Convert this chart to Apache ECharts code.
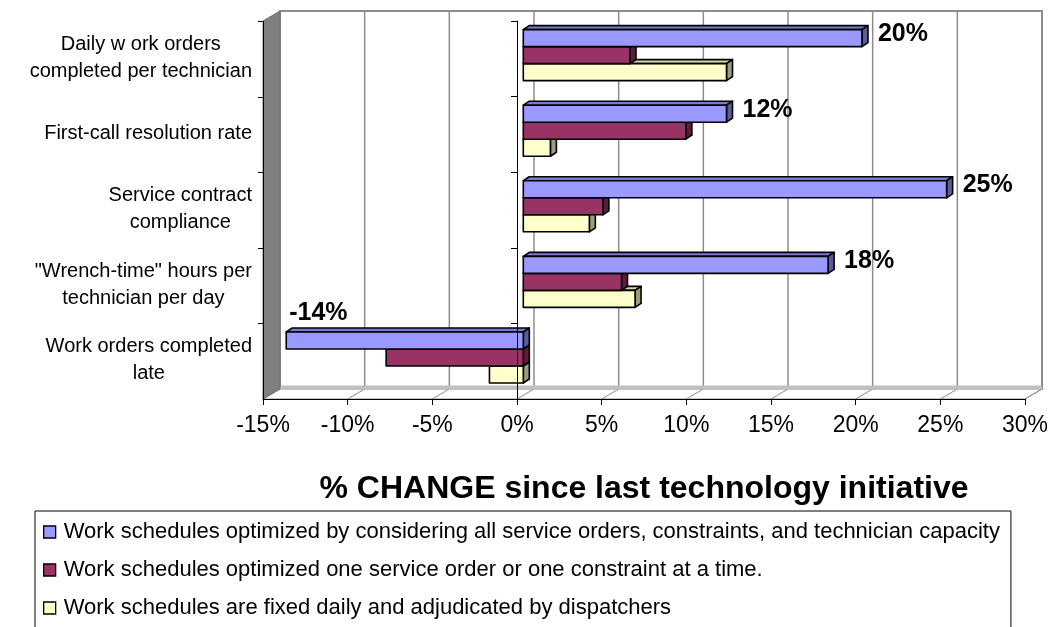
<!DOCTYPE html>
<html>
<head>
<meta charset="utf-8">
<script src="https://cdn.jsdelivr.net/npm/echarts@6/dist/echarts.min.js"></script>
<style>
  html, body { margin: 0; padding: 0; background: #fff; }
  #chart { width: 1054px; height: 627px; }
</style>
</head>
<body>
<div id="chart"></div>
<script>
// ---- data ----
const categories = [
  'Daily w ork orders\ncompleted per technician',
  'First-call resolution rate',
  'Service contract\ncompliance',
  '"Wrench-time" hours per\ntechnician per day',
  'Work orders completed\nlate'
];
const seriesNames = [
  'Work schedules optimized by considering all service orders, constraints, and technician capacity',
  'Work schedules optimized one service order or one constraint at a time.',
  'Work schedules are fixed daily and adjudicated by dispatchers'
];
const allConstraints = [20, 12, 25, 18, -14];
const oneAtATime = [6.3, 9.6, 4.7, 5.8, -8.1];
const fixedDaily = [12, 1.6, 3.9, 6.6, -2.0];
const xTicks = [-15, -10, -5, 0, 5, 10, 15, 20, 25, 30];
const axisTitle = '% CHANGE since last technology initiative';

// ---- look ----
const FONT = '"Liberation Sans", Arial, Helvetica, sans-serif';
const WALL = [17, -10];        // depth of the box (back wall offset)
const BAR_PLANE = [6.3, -3.7]; // bars stand a little behind the front plane
const BAR_DEPTH = [6, -4];     // thickness of each bar into the page
const palette = [
  { front: '#9999FF', top: '#7b7bd6', side: '#5c5c9c' },
  { front: '#993366', top: '#7a2952', side: '#5a1e3c' },
  { front: '#FFFFCC', top: '#d6d6ab', side: '#9c9c7c' }
];

const measureCtx = document.createElement('canvas').getContext('2d');
function maxLineWidth(text, font) {
  measureCtx.font = font;
  return Math.max.apply(null, text.split('\n').map(s => measureCtx.measureText(s).width));
}

// back wall, left wall, floor and the grid lines drawn on them
function renderFrame(params, api) {
  const cs = params.coordSys;
  const v = api.value(0);
  const xf = api.coord([v, 0])[0];
  const left = cs.x, right = cs.x + cs.width, top = cs.y, bottom = cs.y + cs.height;
  const wx = WALL[0], wy = WALL[1];
  const children = [];
  if (params.dataIndex === 0) {
    children.push({
      type: 'rect', z2: 0,
      shape: { x: left + wx, y: top + wy, width: cs.width, height: cs.height },
      style: { fill: '#fff', stroke: '#8c8c8c', lineWidth: 2 }
    });
    children.push({
      type: 'polygon', z2: 0,
      shape: { points: [[left, bottom], [left + wx, bottom + wy], [right + wx, bottom + wy], [right, bottom]] },
      style: { fill: '#fff', stroke: '#8c8c8c', lineWidth: 1 }
    });
    children.push({
      type: 'line', z2: 2,
      shape: { x1: left + wx, y1: bottom + wy - 1.5, x2: right + wx, y2: bottom + wy - 1.5 },
      style: { stroke: '#c0c0c0', lineWidth: 4 }
    });
    children.push({
      type: 'polygon', z2: 3,
      shape: { points: [[left, top], [left + wx, top + wy], [left + wx, bottom + wy], [left, bottom]] },
      style: { fill: '#808080', stroke: '#6e6e6e', lineWidth: 1 }
    });
    // front edge of the side wall with its category ticks
    children.push({
      type: 'line', z2: 4,
      shape: { x1: left + 0.5, y1: top, x2: left + 0.5, y2: bottom },
      style: { stroke: '#000', lineWidth: 1 }
    });
    const n = categories.length;
    for (let i = 0; i < n; i++) {
      const y = Math.round(top + (cs.height * i) / n) + 0.5;
      children.push({
        type: 'line', z2: 4,
        shape: { x1: left - 5, y1: y, x2: left + 0.5, y2: y },
        style: { stroke: '#000', lineWidth: 1 }
      });
    }
  }
  if (v > xTicks[0] && v < xTicks[xTicks.length - 1]) {
    children.push({
      type: 'line', z2: 1,
      shape: { x1: xf + wx, y1: top + wy, x2: xf + wx, y2: bottom + wy },
      style: { stroke: '#8c8c8c', lineWidth: 1.5 }
    });
  }
  if (v > xTicks[0]) {
    children.push({
      type: 'line', z2: 1,
      shape: { x1: xf + wx, y1: bottom + wy, x2: xf, y2: bottom },
      style: { stroke: '#8c8c8c', lineWidth: 1 }
    });
  }
  return { type: 'group', children: children };
}

// one 3D bar: front face, top face and right-hand side face
function makeBarRenderer(slot, withLabel) {
  const col = palette[slot];
  return function (params, api) {
    const val = api.value(0), cat = api.value(1);
    const p0 = api.coord([0, cat]);
    const p1 = api.coord([val, cat]);
    const band = api.size([0, 1])[1];
    const th = band * 0.225;
    const top = p0[1] + BAR_PLANE[1] + (slot - 1.5) * th;
    const bottom = top + th;
    const xa = Math.min(p0[0], p1[0]) + BAR_PLANE[0];
    const xb = Math.max(p0[0], p1[0]) + BAR_PLANE[0];
    const dx = BAR_DEPTH[0], dy = BAR_DEPTH[1];
    const edge = { stroke: '#000', lineWidth: 1.6, lineJoin: 'round' };
    const children = [
      { type: 'polygon', shape: { points: [[xa, top], [xa + dx, top + dy], [xb + dx, top + dy], [xb, top]] },
        style: Object.assign({ fill: col.top }, edge) },
      { type: 'polygon', shape: { points: [[xb, top], [xb + dx, top + dy], [xb + dx, bottom + dy], [xb, bottom]] },
        style: Object.assign({ fill: col.side }, edge) },
      { type: 'rect', shape: { x: xa, y: top, width: xb - xa, height: th },
        style: Object.assign({ fill: col.front }, edge) }
    ];
    if (withLabel) {
      const txt = val + '%';
      const lbl = val >= 0
        ? { x: xb + dx + 10, y: top + th / 2 + dy, align: 'left', verticalAlign: 'middle' }
        : { x: xa + 3, y: top + dy - 2, align: 'left', verticalAlign: 'bottom' };
      children.push({
        type: 'text', x: lbl.x, y: lbl.y,
        style: { text: txt, fill: '#000', font: 'bold 25px ' + FONT, align: lbl.align, verticalAlign: lbl.verticalAlign }
      });
    }
    return { type: 'group', children: children };
  };
}

// wrapped category names, each block right-aligned with its lines centred
const CAT_FONT = '20px ' + FONT;
function renderCategoryLabel(params, api) {
  const idx = api.value(1);
  const y = api.coord([0, idx])[1];
  const text = categories[idx];
  const w = maxLineWidth(text, CAT_FONT);
  return {
    type: 'text', x: params.coordSys.x - 11 - w / 2, y: y - 1,
    style: { text: text, fill: '#000', font: CAT_FONT, align: 'center', verticalAlign: 'middle', lineHeight: 27 }
  };
}

const valueSets = [allConstraints, oneAtATime, fixedDaily];
const barSeries = valueSets.map(function (vals, i) {
  return {
    type: 'custom',
    name: seriesNames[i],
    z: 4 - i,
    renderItem: makeBarRenderer(i, i === 0),
    itemStyle: { color: palette[i].front, borderColor: '#000', borderWidth: 1 },
    data: vals.map(function (v, c) { return [v, c]; })
  };
});

const chart = echarts.init(document.getElementById('chart'), null, { renderer: 'canvas' });
chart.setOption({
  animation: false,
  backgroundColor: '#fff',
  grid: { left: 263, top: 21, width: 762, height: 378, containLabel: false },
  xAxis: {
    type: 'value', min: -15, max: 30, interval: 5, z: 10,
    axisLine: { show: true, onZero: false, lineStyle: { color: '#000', width: 1 } },
    axisTick: { show: true, length: 6, lineStyle: { color: '#000' } },
    axisLabel: { formatter: function (v) { return v + '%'; }, fontSize: 23, color: '#000', margin: 15, fontFamily: FONT },
    splitLine: { show: false },
    name: axisTitle, nameLocation: 'middle', nameGap: 74,
    nameTextStyle: { fontSize: 32, fontWeight: 'bold', color: '#000', fontFamily: FONT }
  },
  yAxis: {
    type: 'category', data: categories, inverse: true, z: 10,
    axisLine: { show: true, onZero: true, lineStyle: { color: '#000', width: 1 } },
    axisTick: { show: true, length: 6, lineStyle: { color: '#000' } },
    axisLabel: { show: false },
    splitLine: { show: false }
  },
  legend: {
    data: seriesNames.map(function (n, i) {
      return { name: n, itemStyle: { color: palette[i].front, borderColor: '#000', borderWidth: 1.3 } };
    }),
    orient: 'vertical', left: 35, top: 511, height: 400,
    icon: 'rect', itemWidth: 12, itemHeight: 12, itemGap: 16,
    padding: [10, 11, 30, 8],
    borderColor: '#000', borderWidth: 1,
    selectedMode: false,
    textStyle: { fontSize: 22, lineHeight: 22, color: '#000', fontFamily: FONT, padding: [0, 0, 0, 3] }
  },
  series: [
    {
      type: 'custom', name: 'frame', z: 1, silent: true,
      renderItem: renderFrame,
      data: xTicks.map(function (v) { return [v, 0]; })
    },
    {
      type: 'custom', name: 'categoryLabels', z: 5, silent: true,
      renderItem: renderCategoryLabel,
      data: categories.map(function (c, i) { return [0, i]; })
    }
  ].concat(barSeries)
});
</script>
</body>
</html>
